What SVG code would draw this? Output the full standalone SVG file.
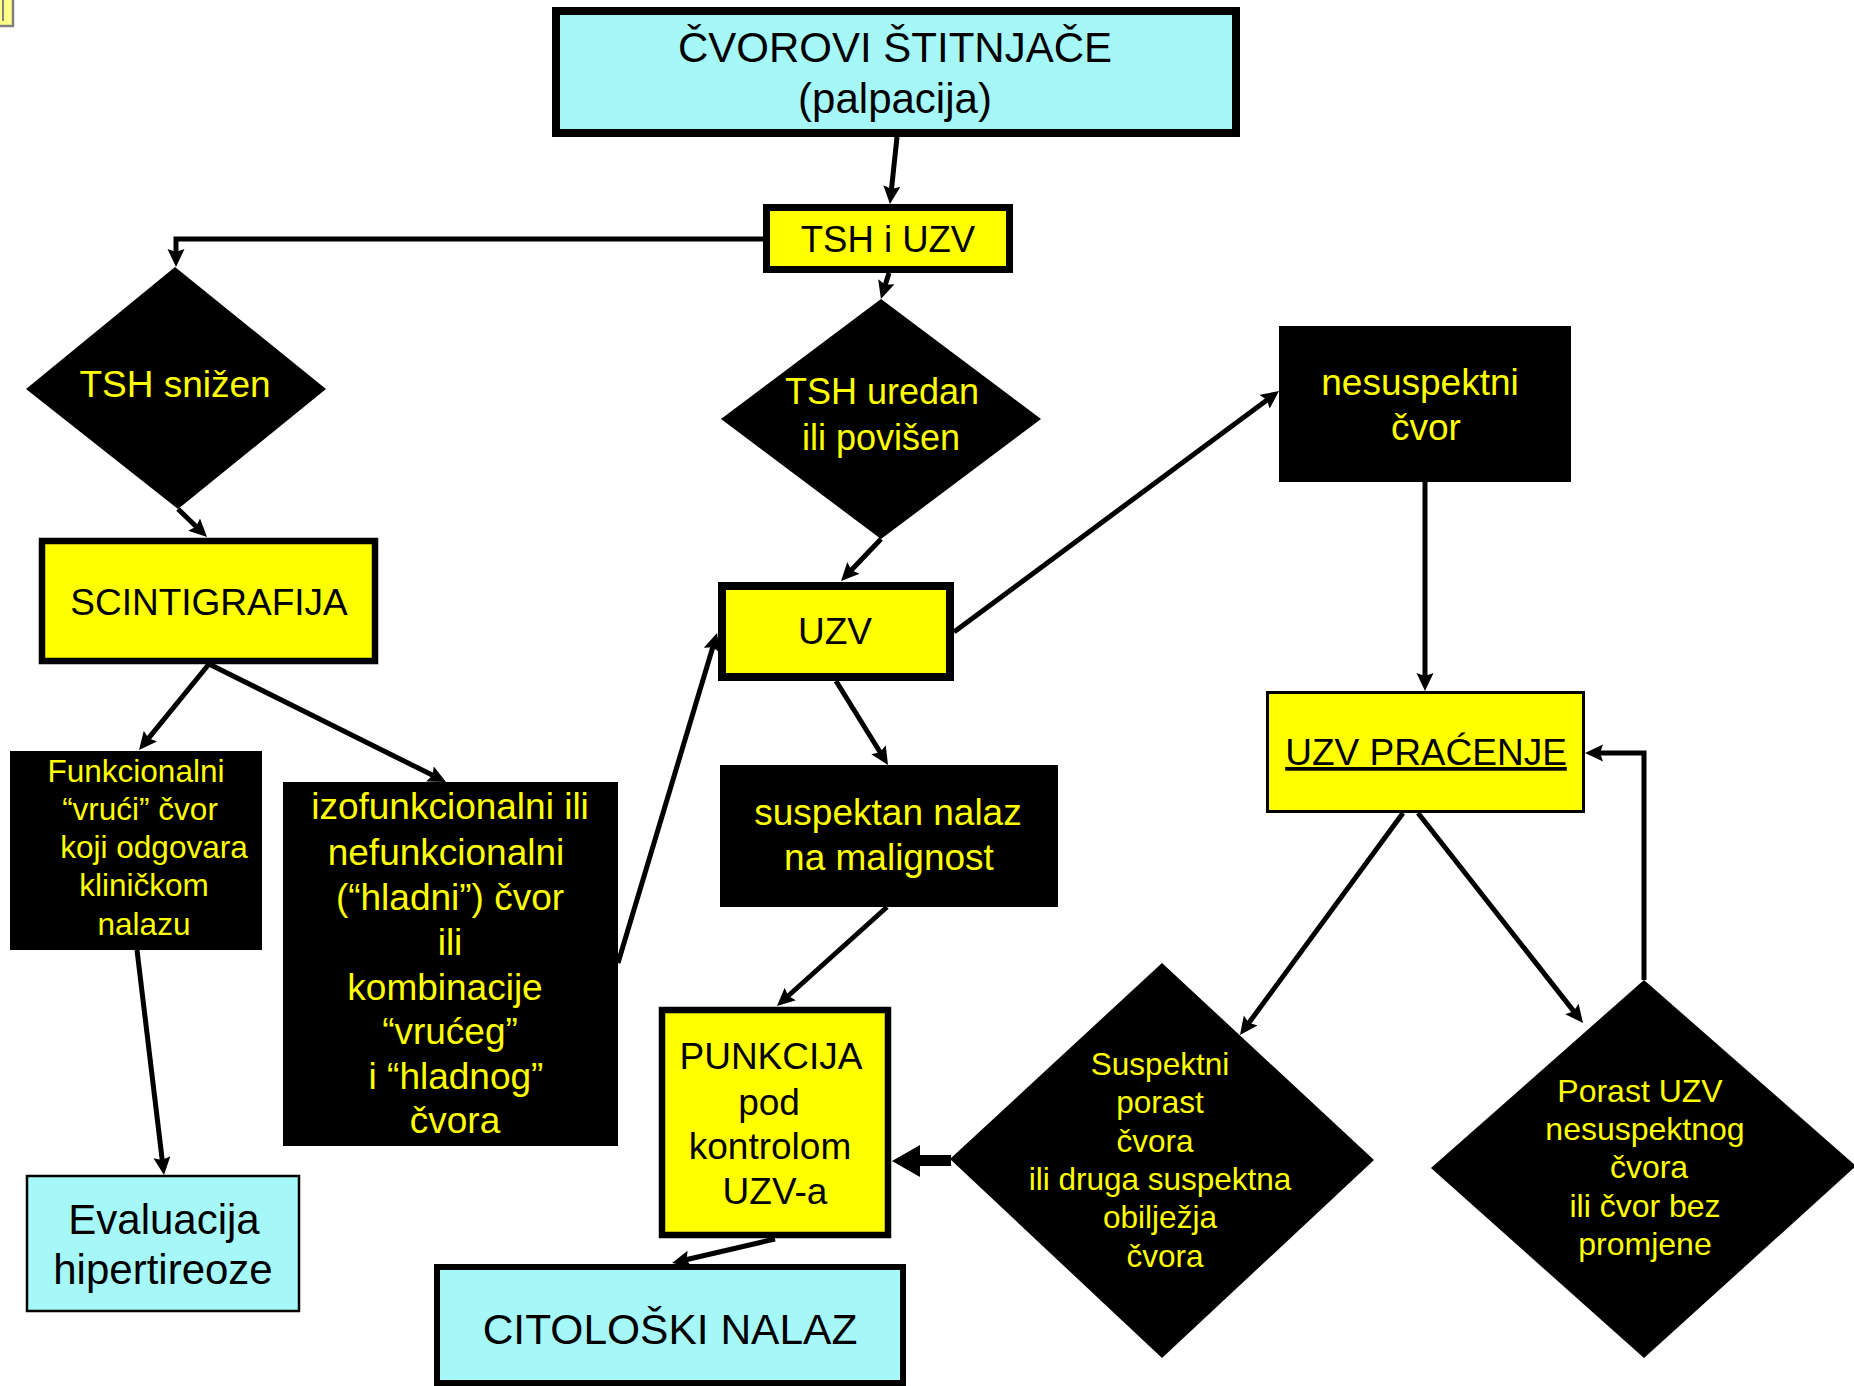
<svg xmlns="http://www.w3.org/2000/svg" width="1854" height="1386" viewBox="0 0 1854 1386">
<style>
text{font-family:"Liberation Sans",Arial,sans-serif;text-anchor:middle}
.k{fill:#000}
.y{fill:#ffff00}
.cy{fill:#a6f8f8;stroke:#000}
.yb{fill:#ffff00;stroke:#000}
.blk{fill:#000}
.c{fill:none;stroke:#000;stroke-width:5;stroke-linejoin:miter}
</style>
<defs>
<marker id="ah" markerUnits="userSpaceOnUse" markerWidth="20" markerHeight="18" refX="6" refY="8.5" orient="auto" viewBox="0 0 20 18">
<path d="M0,0 L18,8.5 L0,17 L3,8.5 Z" fill="#000"/>
</marker>
</defs>

<g id="marker-note">
<rect x="-2" y="-2" width="15" height="28" fill="#ffff88" stroke="#808080" stroke-width="2.5"/>
<line x1="3" y1="0" x2="3" y2="21" stroke="#808080" stroke-width="2"/>
</g>

<g id="connectors">
<path class="c" stroke-width="4.5" d="M897,137 L891.2,192.1" marker-end="url(#ah)"/>
<path class="c" d="M763,239 L176,239 L176,255" marker-end="url(#ah)"/>
<path class="c" d="M889,273 L884.5,287.5" marker-end="url(#ah)"/>
<path class="c" d="M178,509 L198.4,528.7" marker-end="url(#ah)"/>
<path class="c" d="M209,664 L146.6,740.7" marker-end="url(#ah)"/>
<path class="c" d="M209,664 L435.3,776.6" marker-end="url(#ah)"/>
<path class="c" d="M137,950 L162.6,1163.1" marker-end="url(#ah)"/>
<path class="c" d="M618,963 L713.6,644.5" marker-end="url(#ah)"/>
<path class="c" d="M881,539 L849.3,572.3" marker-end="url(#ah)"/>
<path class="c" d="M954,632 L1269.4,398.2" marker-end="url(#ah)"/>
<path class="c" d="M836,681 L881.7,754.8" marker-end="url(#ah)"/>
<path class="c" d="M1425,482 L1425,679" marker-end="url(#ah)"/>
<path class="c" d="M887,907 L785.9,998" marker-end="url(#ah)"/>
<path class="c" d="M775,1239 L683.7,1260.3" marker-end="url(#ah)"/>
<path class="c" d="M1403,813 L1247.1,1025.3" marker-end="url(#ah)"/>
<path class="c" d="M1418,813 L1575.6,1013.6" marker-end="url(#ah)"/>
<path class="c" d="M1644,980 L1644,753 L1597,753" marker-end="url(#ah)"/>
<polygon points="951,1155 920,1155 920,1145 892,1161 920,1177 920,1166 951,1166" fill="#000"/>
</g>

<g id="n-cvorovi">
<rect class="cy" x="556" y="11" width="680" height="122" stroke-width="8"/>
<text class="k" x="895" y="62" font-size="42">ČVOROVI ŠTITNJAČE</text>
<text class="k" x="895" y="113" font-size="42">(palpacija)</text>
</g>

<g id="n-tsh-uzv">
<rect class="yb" x="766.5" y="207.5" width="243" height="62" stroke-width="7"/>
<text class="k" x="888" y="252" font-size="36.5">TSH i UZV</text>
</g>

<g id="n-tsh-snizen">
<polygon class="blk" points="175,267 326,389 178,509 26,389"/>
<text class="y" x="175" y="397" font-size="37">TSH snižen</text>
</g>

<g id="n-tsh-uredan">
<polygon class="blk" points="881,299 1041,419 881,539 721,419"/>
<text class="y" x="882" y="404" font-size="36">TSH uredan</text>
<text class="y" x="881" y="450" font-size="36">ili povišen</text>
</g>

<g id="n-scintigrafija">
<rect class="yb" x="42" y="541" width="333" height="120" stroke-width="6.5"/>
<text class="k" x="209" y="615" font-size="37">SCINTIGRAFIJA</text>
</g>

<g id="n-uzv">
<rect class="yb" x="722" y="586" width="228" height="91" stroke-width="8"/>
<text class="k" x="835" y="644" font-size="37">UZV</text>
</g>

<g id="n-nesuspektni">
<rect class="blk" x="1279" y="326" width="292" height="156"/>
<text class="y" x="1420" y="395" font-size="37">nesuspektni</text>
<text class="y" x="1426" y="440" font-size="37">čvor</text>
</g>

<g id="n-uzv-pracenje">
<rect class="yb" x="1267.5" y="692.5" width="316" height="119" stroke-width="3"/>
<text class="k" x="1426" y="765" font-size="37" text-decoration="underline">UZV PRAĆENJE</text>
</g>

<g id="n-funkcionalni">
<rect class="blk" x="10" y="751" width="252" height="199"/>
<text class="y" font-size="31.5"><tspan x="136" y="782">Funkcionalni</tspan><tspan x="140" y="820">“vrući” čvor</tspan><tspan x="154" y="858">koji odgovara</tspan><tspan x="144" y="896">kliničkom</tspan><tspan x="144" y="935">nalazu</tspan></text>
</g>

<g id="n-izofunkcionalni">
<rect class="blk" x="283" y="782" width="335" height="364"/>
<text class="y" font-size="37"><tspan x="450" y="819">izofunkcionalni ili</tspan><tspan x="446" y="865">nefunkcionalni</tspan><tspan x="450" y="910">(“hladni”) čvor</tspan><tspan x="450" y="955">ili</tspan><tspan x="445" y="1000">kombinacije</tspan><tspan x="450" y="1044">“vrućeg”</tspan><tspan x="456" y="1089">i “hladnog”</tspan><tspan x="455" y="1133">čvora</tspan></text>
</g>

<g id="n-suspektan">
<rect class="blk" x="720" y="765" width="338" height="142"/>
<text class="y" x="888" y="825" font-size="37">suspektan nalaz</text>
<text class="y" x="889" y="870" font-size="37">na malignost</text>
</g>

<g id="n-evaluacija">
<rect class="cy" x="27" y="1176" width="272" height="135" stroke-width="2.5"/>
<text class="k" x="164" y="1234" font-size="42">Evaluacija</text>
<text class="k" x="163" y="1284" font-size="42">hipertireoze</text>
</g>

<g id="n-punkcija">
<rect class="yb" x="662" y="1010" width="226" height="225" stroke-width="6.5"/>
<text class="k" font-size="37"><tspan x="771" y="1069">PUNKCIJA</tspan><tspan x="769" y="1115">pod</tspan><tspan x="770" y="1159">kontrolom</tspan><tspan x="775" y="1204">UZV-a</tspan></text>
</g>

<g id="n-citoloski">
<rect class="cy" x="437" y="1267" width="466" height="116" stroke-width="6"/>
<text class="k" x="670" y="1344" font-size="42.5">CITOLOŠKI NALAZ</text>
</g>

<g id="n-suspektni">
<polygon class="blk" points="1162,963 1374,1160 1162,1358 950,1159"/>
<text class="y" font-size="31.5"><tspan x="1160" y="1075">Suspektni</tspan><tspan x="1160" y="1113">porast</tspan><tspan x="1155" y="1152">čvora</tspan><tspan x="1160" y="1190">ili druga suspektna</tspan><tspan x="1160" y="1228">obilježja</tspan><tspan x="1165" y="1267">čvora</tspan></text>
</g>

<g id="n-porast">
<polygon class="blk" points="1644,980 1856,1166 1644,1358 1431,1168"/>
<text class="y" font-size="32"><tspan x="1640" y="1102">Porast UZV</tspan><tspan x="1645" y="1140">nesuspektnog</tspan><tspan x="1649" y="1178">čvora</tspan><tspan x="1645" y="1217">ili čvor bez</tspan><tspan x="1645" y="1255">promjene</tspan></text>
</g>
</svg>
